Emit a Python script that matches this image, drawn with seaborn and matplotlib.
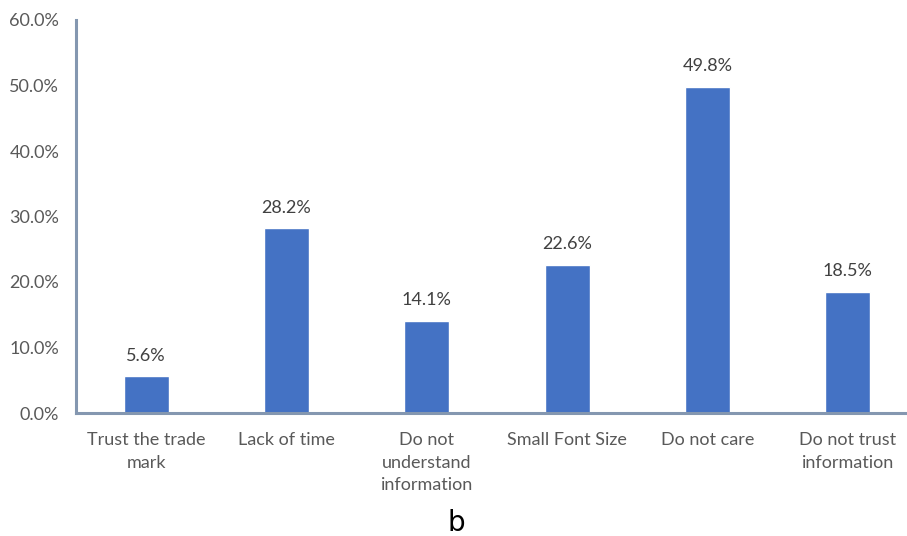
import matplotlib
matplotlib.use("Agg")
import matplotlib.pyplot as plt
import seaborn as sns
import pandas as pd
from matplotlib.ticker import PercentFormatter

categories = ["Trust the trade\nmark", "Lack of time", "Do not\nunderstand\ninformation",
              "Small Font Size", "Do not care", "Do not trust\ninformation"]
values = [5.6, 28.2, 14.1, 22.6, 49.8, 18.5]
y_ticks = [0, 10, 20, 30, 40, 50, 60]

df = pd.DataFrame({"reason": categories, "share": values})

sns.set_theme(style="white")
plt.rcParams["font.family"] = ["Lato", "DejaVu Sans"]

fig = plt.figure(figsize=(9.07, 5.36), dpi=100)
ax = fig.add_axes([76 / 907, (536 - 413) / 536, (918 - 76) / 907, (413 - 20) / 536])

sns.barplot(data=df, x="reason", y="share", color="#4472C4", width=0.32,
            saturation=1, ax=ax)

ax.set_ylim(0, 60)
ax.set_xlim(-0.5, 5.5)
ax.set_yticks(y_ticks)
ax.yaxis.set_major_formatter(PercentFormatter(decimals=1))
ax.set_xlabel("")
ax.set_ylabel("")

for s in ["top", "right"]:
    ax.spines[s].set_visible(False)
for s in ["left", "bottom"]:
    ax.spines[s].set_color("#8497B0")
    ax.spines[s].set_linewidth(2.2)

ax.tick_params(axis="y", length=0, pad=12, labelsize=13, labelcolor="#595959")
ax.tick_params(axis="x", length=0, pad=14, labelsize=13, labelcolor="#595959")
for lbl in ax.get_xticklabels():
    lbl.set_linespacing(1.5)

for i, v in enumerate(values):
    ax.annotate(f"{v:.1f}%", (i, v), xytext=(0, 9), textcoords="offset points",
                ha="center", va="bottom", fontsize=13, color="#404040")

fig.text(456 / 907, 1 - 523 / 536, "b", ha="center", va="center",
         fontsize=20, color="black", family=["DejaVu Sans"])

fig.savefig("out.png", dpi=100)
